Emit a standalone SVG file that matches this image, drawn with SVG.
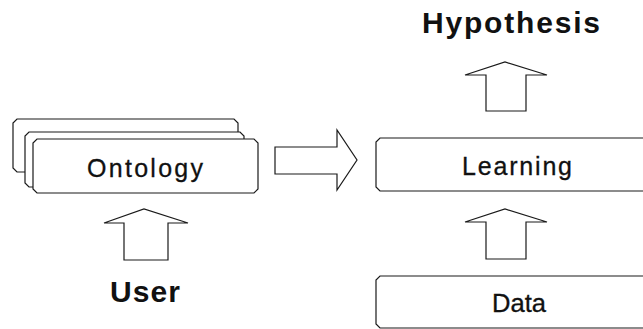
<svg xmlns="http://www.w3.org/2000/svg" width="643" height="329" viewBox="0 0 643 329">
  <style>
    .box { fill: #ffffff; stroke: #1a1a1a; stroke-width: 1.2; }
    .arrow { fill: #ffffff; stroke: #1a1a1a; stroke-width: 1.2; stroke-linejoin: miter; }
    .label { font-family: "Liberation Sans", Arial, sans-serif; font-size: 25px; fill: #111111; stroke: #111111; stroke-width: 0.3; text-anchor: middle; }
    .title { font-family: "Liberation Sans", Arial, sans-serif; font-size: 30px; font-weight: bold; fill: #111111; text-anchor: middle; }
  </style>

  <rect width="643" height="329" fill="#ffffff"/>

  <!-- Ontology: three stacked chamfered cards -->
  <g id="ontology">
    <path class="box" d="M17,119 H234 L238,123 V172 H17 L13,168 V123 Z"/>
    <path class="box" d="M29,132 H240 L244,136 V187 H29 L25,183 V136 Z"/>
    <path class="box" d="M37,139 H254 L258,143 V189 L254,193 H37 L33,189 V143 Z"/>
    <text class="label" x="145" y="177" textLength="116" lengthAdjust="spacing">Ontology</text>
  </g>

  <!-- Learning box, runs past the right edge -->
  <g id="learning">
    <path class="box" d="M380,138 H660 V191 H380 L376,187 V142 Z"/>
    <text class="label" x="517" y="175" textLength="110" lengthAdjust="spacing">Learning</text>
  </g>

  <!-- Data box, runs past the right edge -->
  <g id="data">
    <path class="box" d="M380,276 H660 V328 H380 L376,324 V280 Z"/>
    <text class="label" x="519" y="312" textLength="54" lengthAdjust="spacingAndGlyphs">Data</text>
  </g>

  <g id="user">
    <text class="title" x="145" y="302" textLength="70" lengthAdjust="spacing">User</text>
  </g>

  <g id="hypothesis">
    <text class="title" x="511" y="33" textLength="178" lengthAdjust="spacing">Hypothesis</text>
  </g>

  <!-- Block arrows between the nodes -->
  <g id="connectors">
    <!-- User -> Ontology -->
    <polygon class="arrow" points="124,260 124,223 104,223 144,209 188,223 168,223 168,260"/>
    <!-- Ontology -> Learning -->
    <polygon class="arrow" points="275,147 337,147 337,130 357,160 337,190 337,174 275,174"/>
    <!-- Data -> Learning -->
    <polygon class="arrow" points="486,259 486,222 465,222 505,209 547,222 526,222 526,259"/>
    <!-- Learning -> Hypothesis -->
    <polygon class="arrow" points="486,111 486,75 465,75 505,62 547,75 526,75 526,111"/>
  </g>
</svg>
